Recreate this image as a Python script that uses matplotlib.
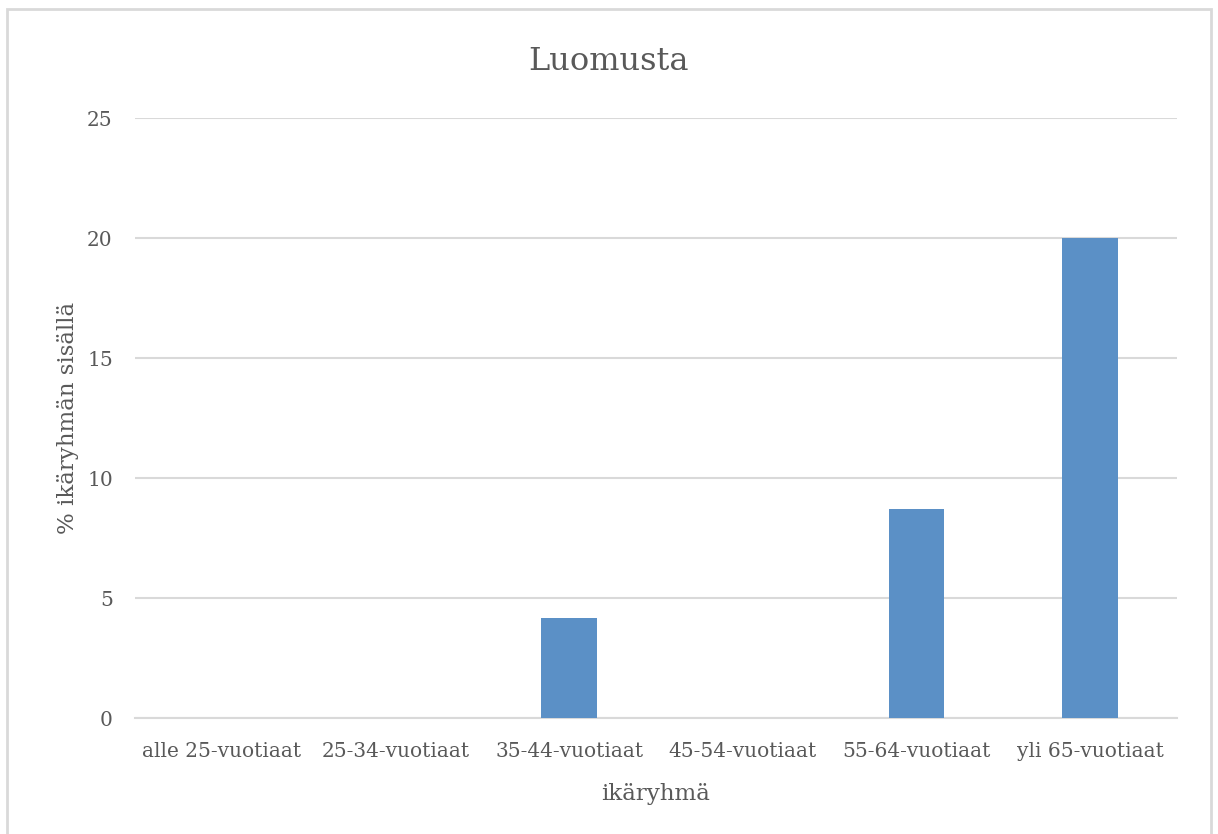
import matplotlib.pyplot as plt
from matplotlib.patches import Rectangle

categories = ['alle 25-vuotiaat', '25-34-vuotiaat', '35-44-vuotiaat',
              '45-54-vuotiaat', '55-64-vuotiaat', 'yli 65-vuotiaat']
values = [0, 0, 4.17, 0, 8.7, 20]

plt.rcParams['font.family'] = ['DejaVu Serif']

W, H = 1218, 834
fig = plt.figure(figsize=(W / 100, H / 100), dpi=100)
ax = fig.add_axes([135 / W, 1 - 718 / H, (1177 - 135) / W, (718 - 118) / H])

# chart border
fig.patches.append(Rectangle((7 / W, -0.01), (1211 - 7) / W, 1.01 - 9 / H,
                             transform=fig.transFigure, fill=False,
                             edgecolor='#d9d9d9', linewidth=2))

x = range(len(categories))
ax.bar(x, values, width=0.32, color='#5B90C6', zorder=3)

ax.set_xlim(-0.5, len(categories) - 0.5)
ax.set_ylim(0, 25)
ax.set_yticks([0, 5, 10, 15, 20, 25])
ax.set_xticks(list(x))
ax.set_xticklabels(categories)
ax.yaxis.grid(True, color='#d9d9d9', linewidth=1.5, zorder=0)
for s in ['top', 'right', 'left']:
    ax.spines[s].set_visible(False)
ax.spines['bottom'].set_color('#d9d9d9')
ax.spines['bottom'].set_linewidth(1.5)
ax.tick_params(length=0, labelsize=14.5, colors='#595959')
ax.tick_params(axis='y', pad=16)
ax.tick_params(axis='x', pad=17)

ax.set_xlabel('ikäryhmä', fontsize=16.5, color='#595959', labelpad=16)
ax.set_ylabel('% ikäryhmän sisällä', fontsize=16.5, color='#595959', labelpad=6)
fig.text(609 / W, 1 - 62 / H, 'Luomusta', ha='center', va='center',
         fontsize=23, color='#595959')

fig.savefig('out.png', dpi=100)
